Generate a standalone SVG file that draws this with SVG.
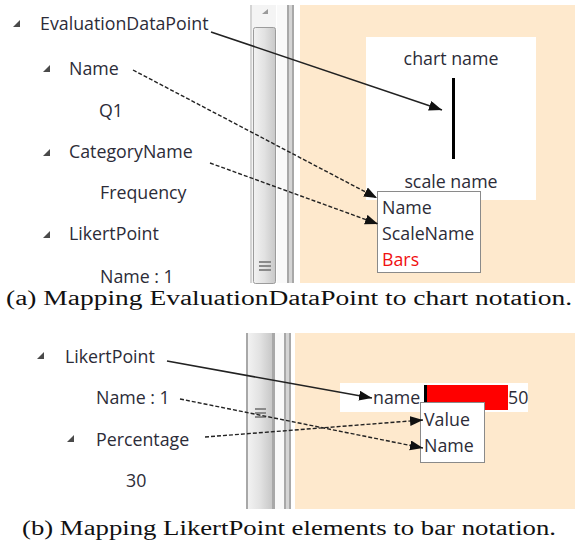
<svg xmlns="http://www.w3.org/2000/svg" width="575" height="546" viewBox="0 0 575 546">
  <style>
    .ui { font-family: "Open Sans", "Noto Sans", "DejaVu Sans", sans-serif; font-size: 17.8px; fill: #2c2c38; }
    .cap { font-family: "Liberation Serif", "DejaVu Serif", serif; font-size: 20px; fill: #111; }
    .tri { fill: #4a4a4a; }
    .solid { fill: none; stroke: #222; stroke-width: 1.6; }
    .dash { fill: none; stroke: #222; stroke-width: 1.4; stroke-dasharray: 4 2; }
    .peach { fill: #fee9cd; }
    .gline { fill: #a8a8a8; }
    .lline { fill: #d4d4d4; }
  </style>
  <defs>
    <marker id="arrow" markerUnits="userSpaceOnUse" markerWidth="14" markerHeight="12" refX="13" refY="5" orient="auto">
      <path d="M0,0 L13,5 L0,10 Z" fill="#111"/>
    </marker>
    <linearGradient id="thumb" x1="0" y1="0" x2="1" y2="0">
      <stop offset="0" stop-color="#f2f2f2"/>
      <stop offset="0.5" stop-color="#e2e2e2"/>
      <stop offset="1" stop-color="#c8c8c8"/>
    </linearGradient>
    <clipPath id="clip-a">
      <rect x="0" y="0" width="575" height="283"/>
    </clipPath>
  </defs>
  <rect width="575" height="546" fill="#ffffff"/>

  <!-- panel (a): tree view, scrollbar and chart area -->
  <g id="panel-a">
    <rect x="300" y="5" width="275" height="278" class="peach"/>
    <rect x="250" y="5" width="2" height="278" class="lline"/>
    <rect x="252" y="5" width="24" height="278" fill="#f4f4f4"/>
    <path d="M262,14 L268,14 L268,9 Z" fill="#9a9a9a"/>
    <rect x="253.5" y="27.5" width="22" height="256" rx="2" fill="url(#thumb)" stroke="#9c9c9c"/>
    <g fill="#8a8a8a">
      <rect x="259" y="261" width="12" height="2"/>
      <rect x="259" y="265" width="12" height="2"/>
      <rect x="259" y="269" width="12" height="2"/>
    </g>
    <rect x="277" y="5" width="10" height="278" fill="#f9f9f9"/>
    <rect x="287" y="5" width="2" height="278" class="gline"/>
    <rect x="289" y="5" width="3" height="278" class="lline"/>
    <rect x="292" y="5" width="2" height="278" class="gline"/>
    <rect x="366" y="37" width="170" height="163" fill="#ffffff"/>
  </g>

  <g id="tree-a" clip-path="url(#clip-a)">
    <g id="node-evaluationdatapoint">
      <path d="M13,27 L20,27 L20,20 Z" class="tri"/>
      <text x="40" y="30" class="ui">EvaluationDataPoint</text>
    </g>
    <g id="node-name">
      <path d="M43,72 L50,72 L50,65 Z" class="tri"/>
      <text x="69" y="75" class="ui">Name</text>
    </g>
    <g id="node-q1"><text x="99" y="117" class="ui">Q1</text></g>
    <g id="node-categoryname">
      <path d="M43,156 L50,156 L50,149 Z" class="tri"/>
      <text x="69" y="158" class="ui">CategoryName</text>
    </g>
    <g id="node-frequency"><text x="100" y="199" class="ui">Frequency</text></g>
    <g id="node-likertpoint">
      <path d="M43,238 L50,238 L50,231 Z" class="tri"/>
      <text x="69" y="240" class="ui">LikertPoint</text>
    </g>
    <g id="node-name1"><text x="100" y="283" class="ui">Name : 1</text></g>
  </g>

  <g id="chart-a">
    <g id="node-chartname"><text x="451" y="65" class="ui" text-anchor="middle">chart name</text></g>
    <g id="node-axis"><rect x="452" y="78" width="3" height="81" fill="#000"/></g>
    <g id="node-scalename"><text x="451" y="188" class="ui" text-anchor="middle">scale name</text></g>
    <g id="node-props-a">
      <rect x="377.5" y="191.5" width="103" height="81" fill="#ffffff" stroke="#8a8a8a"/>
      <text x="382" y="214" class="ui">Name</text>
      <text x="382" y="240" class="ui">ScaleName</text>
      <text x="382" y="266" class="ui" style="fill:#f01010">Bars</text>
    </g>
  </g>

  <g id="connectors-a">
    <path d="M211,32 L442,110" class="solid" marker-end="url(#arrow)"/>
    <path d="M133,70 L377,198" class="dash" marker-end="url(#arrow)"/>
    <path d="M210,163 L378,224" class="dash" marker-end="url(#arrow)"/>
  </g>

  <text x="6" y="305" class="cap" textLength="566" lengthAdjust="spacingAndGlyphs">(a) Mapping EvaluationDataPoint to chart notation.</text>

  <!-- panel (b): tree view, scrollbar and bar area -->
  <g id="panel-b">
    <rect x="295" y="333" width="280" height="176" class="peach"/>
    <rect x="246" y="333" width="2" height="176" class="gline"/>
    <rect x="248" y="333" width="24" height="176" fill="url(#thumb)"/>
    <g fill="#8a8a8a">
      <rect x="255" y="408" width="11" height="2"/>
      <rect x="255" y="412" width="11" height="2"/>
      <rect x="255" y="416" width="11" height="2"/>
    </g>
    <rect x="272" y="333" width="3" height="176" class="gline"/>
    <rect x="275" y="333" width="9" height="176" fill="#f9f9f9"/>
    <rect x="284" y="333" width="2" height="176" class="gline"/>
    <rect x="286" y="333" width="3" height="176" class="lline"/>
    <rect x="289" y="333" width="2" height="176" class="gline"/>
    <rect x="340" y="383" width="188" height="29" fill="#ffffff"/>
  </g>

  <g id="tree-b">
    <g id="node-likertpoint-b">
      <path d="M37,359 L44,359 L44,352 Z" class="tri"/>
      <text x="65" y="363" class="ui">LikertPoint</text>
    </g>
    <g id="node-name1-b"><text x="96" y="404" class="ui">Name : 1</text></g>
    <g id="node-percentage">
      <path d="M67,442 L74,442 L74,435 Z" class="tri"/>
      <text x="96" y="446" class="ui">Percentage</text>
    </g>
    <g id="node-30"><text x="126" y="487" class="ui">30</text></g>
  </g>

  <g id="chart-b">
    <g id="node-bar">
      <rect x="427" y="385" width="81" height="25" fill="#ff0000"/>
      <rect x="424" y="385" width="3" height="21" fill="#000"/>
      <text x="373" y="404" class="ui">name</text>
      <text x="508" y="404" class="ui">50</text>
    </g>
    <g id="node-props-b">
      <rect x="420.5" y="402.5" width="64" height="60" fill="#ffffff" stroke="#8a8a8a"/>
      <text x="424" y="426" class="ui">Value</text>
      <text x="424" y="452" class="ui">Name</text>
    </g>
  </g>

  <g id="connectors-b">
    <path d="M167,361 L372,398" class="solid" marker-end="url(#arrow)"/>
    <path d="M180,399 L423,448" class="dash" marker-end="url(#arrow)"/>
    <path d="M205,437 L423,420" class="dash" marker-end="url(#arrow)"/>
  </g>

  <text x="22" y="535" class="cap" textLength="534" lengthAdjust="spacingAndGlyphs">(b) Mapping LikertPoint elements to bar notation.</text>
</svg>
